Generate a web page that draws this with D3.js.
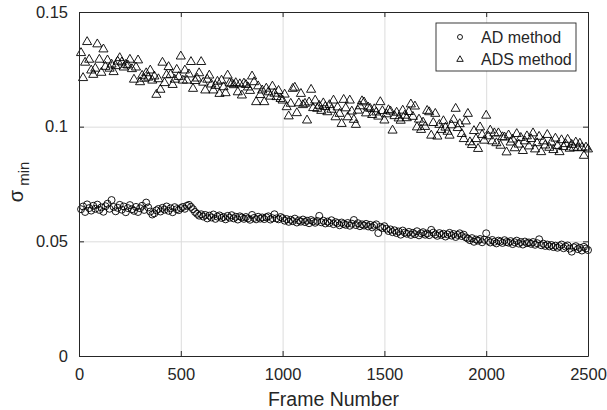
<!DOCTYPE html>
<html lang="en">
<head>
<meta charset="utf-8">
<title>sigma min per frame</title>
<script src="https://cdn.jsdelivr.net/npm/d3@7"></script>
<style>
  body { margin: 0; background: #fff; }
  svg text { font-family: "Liberation Sans", Arial, sans-serif; fill: #262626; }
  .grid line { stroke: #dcdcdc; stroke-width: 1; }
  .grid path { display: none; }
  .axis path, .axis line { stroke: #262626; stroke-width: 1; }
  .mark { fill: none; stroke: #000; stroke-width: 0.9; }
</style>
</head>
<body>
<div id="chart"></div>
<script>
// frame numbers (one sample every 10 frames)
var frames = [
  10,20,30,40,50,60,70,80,90,100,110,120,130,140,150,160,170,180,190,200,210,220,230,240,250,
  260,270,280,290,300,310,320,330,340,350,360,370,380,390,400,410,420,430,440,450,460,470,480,490,500,
  510,520,530,540,550,560,570,580,590,600,610,620,630,640,650,660,670,680,690,700,710,720,730,740,750,
  760,770,780,790,800,810,820,830,840,850,860,870,880,890,900,910,920,930,940,950,960,970,980,990,1000,
  1010,1020,1030,1040,1050,1060,1070,1080,1090,1100,1110,1120,1130,1140,1150,1160,1170,1180,1190,1200,1210,1220,1230,1240,1250,
  1260,1270,1280,1290,1300,1310,1320,1330,1340,1350,1360,1370,1380,1390,1400,1410,1420,1430,1440,1450,1460,1470,1480,1490,1500,
  1510,1520,1530,1540,1550,1560,1570,1580,1590,1600,1610,1620,1630,1640,1650,1660,1670,1680,1690,1700,1710,1720,1730,1740,1750,
  1760,1770,1780,1790,1800,1810,1820,1830,1840,1850,1860,1870,1880,1890,1900,1910,1920,1930,1940,1950,1960,1970,1980,1990,2000,
  2010,2020,2030,2040,2050,2060,2070,2080,2090,2100,2110,2120,2130,2140,2150,2160,2170,2180,2190,2200,2210,2220,2230,2240,2250,
  2260,2270,2280,2290,2300,2310,2320,2330,2340,2350,2360,2370,2380,2390,2400,2410,2420,2430,2440,2450,2460,2470,2480,2490,2500
];

// AD method (circles)
var adValues = [
  .0640,.0652,.0628,.0661,.0645,.0634,.0655,.0642,.0660,.0637,
  .0648,.0629,.0653,.0664,.0642,.0680,.0650,.0631,.0646,.0659,
  .0638,.0652,.0627,.0645,.0658,.0640,.0633,.0650,.0628,.0644,
  .0655,.0637,.0669,.0648,.0630,.0617,.0622,.0635,.0641,.0630,
  .0646,.0638,.0652,.0633,.0644,.0627,.0649,.0640,.0636,.0645,
  .0650,.0642,.0655,.0659,.0650,.0640,.0628,.0620,.0612,.0618,
  .0608,.0615,.0600,.0612,.0604,.0617,.0598,.0608,.0613,.0602,
  .0606,.0596,.0611,.0603,.0614,.0600,.0607,.0595,.0609,.0604,
  .0598,.0606,.0600,.0594,.0615,.0602,.0596,.0607,.0599,.0604,
  .0597,.0605,.0609,.0595,.0601,.0618,.0600,.0596,.0606,.0601,
  .0590,.0597,.0585,.0594,.0588,.0599,.0582,.0591,.0586,.0595,
  .0584,.0590,.0579,.0593,.0587,.0581,.0589,.0611,.0583,.0590,
  .0578,.0586,.0580,.0592,.0575,.0584,.0579,.0570,.0582,.0576,
  .0572,.0580,.0568,.0577,.0593,.0571,.0579,.0566,.0574,.0569,
  .0576,.0565,.0572,.0561,.0568,.0574,.0536,.0563,.0558,.0566,
  .0555,.0545,.0552,.0540,.0548,.0536,.0543,.0529,.0547,.0538,
  .0533,.0541,.0528,.0537,.0531,.0544,.0526,.0535,.0540,.0529,
  .0534,.0527,.0550,.0538,.0530,.0524,.0536,.0528,.0533,.0521,
  .0530,.0537,.0525,.0532,.0519,.0528,.0535,.0523,.0529,.0517,
  .0512,.0505,.0514,.0498,.0508,.0503,.0510,.0496,.0507,.0535,
  .0502,.0495,.0506,.0498,.0491,.0503,.0499,.0493,.0505,.0497,
  .0494,.0501,.0488,.0496,.0503,.0490,.0497,.0486,.0499,.0492,
  .0495,.0489,.0497,.0485,.0492,.0509,.0483,.0490,.0480,.0486,
  .0478,.0484,.0475,.0481,.0472,.0479,.0486,.0470,.0477,.0482,
  .0468,.0455,.0474,.0479,.0466,.0472,.0460,.0476,.0469,.0462
];

// ADS method (triangles)
var adsValues = [
  .1325,.1216,.1283,.1373,.1296,.1249,.1230,.1257,.1363,.1296,
  .1239,.1341,.1265,.1293,.1257,.1275,.1242,.1268,.1288,.1303,
  .1284,.1262,.1274,.1271,.1296,.1255,.1209,.1262,.1293,.1198,
  .1226,.1213,.1237,.1218,.1249,.1205,.1223,.1143,.1211,.1165,
  .1283,.1194,.1228,.1264,.1230,.1186,.1209,.1252,.1221,.1310,
  .1205,.1249,.1205,.1232,.1286,.1169,.1203,.1214,.1237,.1286,
  .1196,.1162,.1209,.1227,.1188,.1162,.1182,.1200,.1147,.1205,
  .1176,.1150,.1227,.1193,.1191,.1185,.1194,.1154,.1189,.1140,
  .1192,.1186,.1175,.1160,.1223,.1198,.1111,.1180,.1142,.1162,
  .1111,.1170,.1154,.1135,.1179,.1148,.1133,.1160,.1125,.1118,
  .1144,.1089,.1049,.1104,.1169,.1174,.1063,.1106,.1147,.1098,
  .1104,.1031,.1110,.1165,.1085,.1118,.1082,.1095,.1073,.1106,
  .1090,.1067,.1098,.1078,.1118,.1045,.1088,.1060,.1016,.1121,
  .1084,.1045,.1118,.1070,.1034,.1012,.1074,.1093,.1115,.1110,
  .1062,.1088,.1082,.1055,.1080,.1066,.1048,.1111,.1072,.1031,
  .1058,.1076,.1070,.0987,.1050,.1065,.1040,.1030,.1074,.1052,
  .1041,.1068,.1101,.1047,.1092,.1001,.1035,.0990,.1022,.1003,
  .1073,.1067,.0965,.1020,.1060,.0961,.1012,.0990,.1028,.1000,
  .0982,.0965,.1010,.1034,.1082,.0998,.1015,.0972,.0950,.1027,
  .1060,.0936,.0924,.0985,.0950,.0907,.1001,.0968,.0943,.1052,
  .0962,.0987,.0940,.0975,.0932,.0975,.0921,.0958,.0957,.0892,
  .0966,.0935,.0948,.0910,.0972,.0926,.0955,.0898,.0940,.0962,
  .0918,.0950,.0975,.0905,.0932,.0960,.0893,.0940,.0922,.0968,
  .0912,.0935,.0902,.0952,.0920,.0893,.0945,.0915,.0928,.0947,
  .0908,.0925,.0912,.0935,.0910,.0930,.0912,.0877,.0913,.0905
];

var xTicks = [0, 500, 1000, 1500, 2000, 2500];
var yTicks = [0, 0.05, 0.1, 0.15];
var yTickLabels = ["0", "0.05", "0.1", "0.15"];
var legendLabels = ["AD method", "ADS method"];

var width = 607, height = 410;
var margin = {top: 12, right: 19, bottom: 54, left: 79};
var w = width - margin.left - margin.right,
    h = height - margin.top - margin.bottom;

var svg = d3.select("#chart").append("svg")
    .attr("width", width)
    .attr("height", height);

var g = svg.append("g")
    .attr("transform", "translate(" + margin.left + "," + margin.top + ")");

var x = d3.scaleLinear().domain([0, 2500]).range([0, w]);
var y = d3.scaleLinear().domain([0, 0.15]).range([h, 0]);

// grid
g.append("g").attr("class", "grid")
    .attr("transform", "translate(0," + h + ")")
    .call(d3.axisBottom(x).tickValues(xTicks).tickSize(-h).tickFormat(""));
g.append("g").attr("class", "grid")
    .call(d3.axisLeft(y).tickValues(yTicks).tickSize(-w).tickFormat(""));

// points
var circles = frames.map(function(f, i) { return [f, adValues[i]]; });
var triangles = frames.map(function(f, i) { return [f, adsValues[i]]; });

var tri = d3.symbol().type(d3.symbolTriangle).size(36);

g.append("g").selectAll("path")
    .data(triangles)
  .enter().append("path")
    .attr("class", "mark")
    .attr("d", tri)
    .attr("transform", function(d) { return "translate(" + x(d[0]) + "," + (y(d[1]) + 0.8) + ")"; });

g.append("g").selectAll("circle")
    .data(circles)
  .enter().append("circle")
    .attr("class", "mark")
    .attr("cx", function(d) { return x(d[0]); })
    .attr("cy", function(d) { return y(d[1]); })
    .attr("r", 3.5);

// axes with inward ticks on all four sides
var bottom = g.append("g").attr("class", "axis")
    .attr("transform", "translate(0," + h + ")")
    .call(d3.axisBottom(x).tickValues(xTicks).tickSizeInner(-5).tickSizeOuter(0).tickPadding(12)
      .tickFormat(d3.format("d")));
bottom.selectAll("text").attr("font-size", 16.5);

g.append("g").attr("class", "axis")
    .call(d3.axisTop(x).tickValues(xTicks).tickSizeInner(-5).tickSizeOuter(0).tickFormat(""));

var left = g.append("g").attr("class", "axis")
    .call(d3.axisLeft(y).tickValues(yTicks).tickSizeInner(-5).tickSizeOuter(0).tickPadding(11)
      .tickFormat(function(d, i) { return yTickLabels[i]; }));
left.selectAll("text").attr("font-size", 16.5);

g.append("g").attr("class", "axis")
    .attr("transform", "translate(" + w + ",0)")
    .call(d3.axisRight(y).tickValues(yTicks).tickSizeInner(-5).tickSizeOuter(0).tickFormat(""));

g.selectAll(".axis text").attr("fill", "#262626").style("fill", "#262626");

// labels
svg.append("text")
    .attr("x", margin.left + w / 2)
    .attr("y", 406)
    .attr("text-anchor", "middle")
    .attr("font-size", 19.5)
    .text("Frame Number");

var yl = svg.append("text")
    .attr("transform", "translate(23," + (margin.top + h / 2 - 2) + ") rotate(-90)")
    .attr("text-anchor", "middle")
    .attr("font-size", 20);
yl.append("tspan").text("\u03c3");
yl.append("tspan").attr("dy", 6).attr("font-size", 15).text(" min");

// legend
var lg = svg.append("g").attr("transform", "translate(436,23)");
lg.append("rect")
    .attr("width", 140).attr("height", 48)
    .attr("fill", "#fff").attr("stroke", "#262626").attr("stroke-width", 0.9);
lg.append("circle").attr("class", "mark")
    .attr("cx", 24).attr("cy", 14).attr("r", 2.5);
lg.append("path").attr("class", "mark")
    .attr("d", d3.symbol().type(d3.symbolTriangle).size(18))
    .attr("transform", "translate(24,36.5)");
lg.selectAll("text.lbl")
    .data(legendLabels)
  .enter().append("text")
    .attr("class", "lbl")
    .attr("x", 45)
    .attr("y", function(d, i) { return 20 + i * 22; })
    .attr("font-size", 16)
    .text(function(d) { return d; });
</script>
</body>
</html>
